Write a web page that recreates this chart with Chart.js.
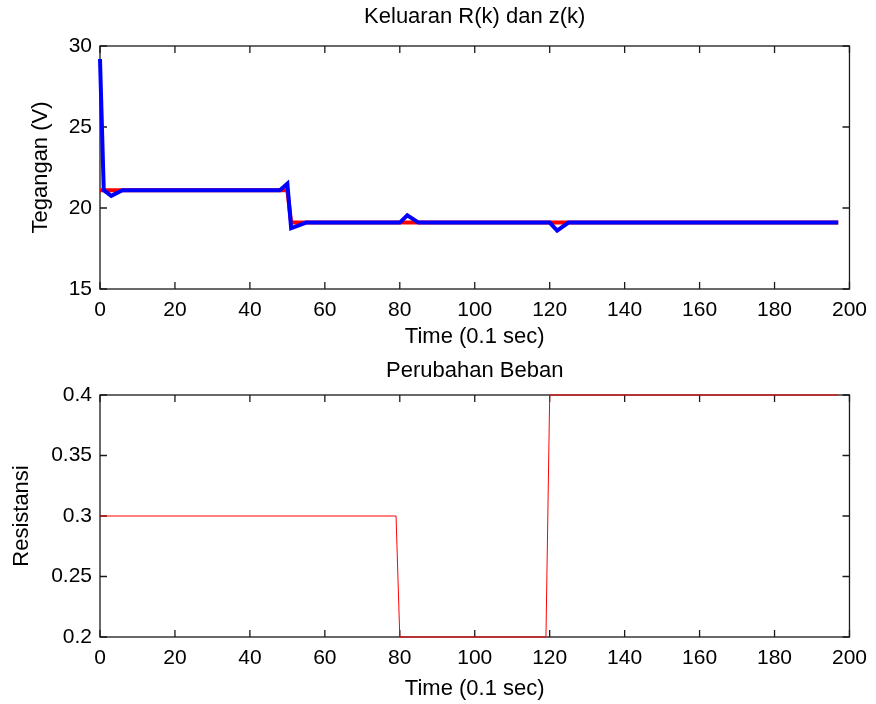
<!DOCTYPE html>
<html>
<head>
<meta charset="utf-8">
<script src="https://cdn.jsdelivr.net/npm/chart.js@4"></script>
<style>
  html, body { margin: 0; padding: 0; background: #fff; }
  #wadah { position: relative; width: 876px; height: 704px; background: #fff; }
  canvas { position: absolute; left: 0; }
</style>
</head>
<body>
<div id="wadah">
  <canvas id="grafikAtas" width="876" height="352" style="top:0"></canvas>
  <canvas id="grafikBawah" width="876" height="352" style="top:352px"></canvas>
</div>
<script>
// data
const waktuR = [0, 50, 51, 197];
const nilaiR = [21.1, 21.1, 19.1, 19.1];
const waktuZ = [0, 1, 3, 6, 48, 50, 51, 55, 80, 82, 85, 120, 122, 125, 197];
const nilaiZ = [29.2, 21.1, 20.75, 21.1, 21.1, 21.5, 18.75, 19.1, 19.1, 19.55, 19.1, 19.1, 18.6, 19.1, 19.1];
const waktuBeban = [0, 79, 80, 119, 120, 197];
const nilaiBeban = [0.3, 0.3, 0.2, 0.2, 0.4, 0.4];

const labelX = [0, 20, 40, 60, 80, 100, 120, 140, 160, 180, 200];
const labelTegangan = [15, 20, 25, 30];
const labelResistansi = [0.2, 0.25, 0.3, 0.35, 0.4];

const huruf = '"Liberation Sans", Arial, sans-serif';
Chart.defaults.color = '#000';
Chart.defaults.font.family = huruf;

function gabung(xs, ys) {
    return xs.map((x, i) => ({ x: x, y: ys[i] }));
}

// kotak sumbu + tick ke dalam ala MATLAB
const kotakSumbu = {
    id: 'kotakSumbu',
    beforeDatasetsDraw(chart) {
        const { ctx, chartArea: a, scales } = chart;
        const p = 7;
        ctx.save();
        ctx.strokeStyle = '#1a1a1a';
        ctx.lineWidth = 1.3;
        ctx.strokeRect(a.left, a.top, a.right - a.left, a.bottom - a.top);
        ctx.beginPath();
        scales.x.ticks.forEach(t => {
            const x = scales.x.getPixelForValue(t.value);
            ctx.moveTo(x, a.bottom); ctx.lineTo(x, a.bottom - p);
            ctx.moveTo(x, a.top); ctx.lineTo(x, a.top + p);
        });
        scales.y.ticks.forEach(t => {
            const y = scales.y.getPixelForValue(t.value);
            ctx.moveTo(a.left, y); ctx.lineTo(a.left + p, y);
            ctx.moveTo(a.right, y); ctx.lineTo(a.right - p, y);
        });
        ctx.stroke();
        ctx.restore();
    }
};

function buatGrafik(id, opsi) {
    return new Chart(document.getElementById(id), {
        type: 'line',
        data: { datasets: opsi.datasets },
        options: {
            responsive: false,
            animation: false,
            devicePixelRatio: 1,
            layout: { padding: { left: 0, right: 25, top: 0, bottom: 0 } },
            elements: { point: { radius: 0 }, line: { tension: 0 } },
            plugins: {
                legend: { display: false },
                tooltip: { enabled: false },
                title: {
                    display: true,
                    text: opsi.judul,
                    fullSize: false,
                    color: '#000',
                    font: { family: huruf, size: 22, weight: 'normal' },
                    padding: opsi.padJudul
                }
            },
            scales: {
                x: {
                    type: 'linear',
                    min: 0,
                    max: 200,
                    afterBuildTicks: s => { s.ticks = labelX.map(v => ({ value: v })); },
                    afterFit: s => { s.height = opsi.tinggiX; },
                    grid: { display: false, drawTicks: false },
                    border: { display: false },
                    ticks: { padding: 9, maxRotation: 0, autoSkip: false, font: { size: 21 }, callback: v => String(v) },
                    title: { display: true, text: 'Time (0.1 sec)', font: { size: 22 }, padding: { top: 0, bottom: 2 } }
                },
                y: {
                    type: 'linear',
                    min: opsi.yMin,
                    max: opsi.yMax,
                    afterBuildTicks: s => { s.ticks = opsi.labelY.map(v => ({ value: v })); },
                    afterFit: s => { s.width = 100; },
                    grid: { display: false, drawTicks: false },
                    border: { display: false },
                    ticks: { padding: 8, autoSkip: false, font: { size: 21 }, callback: v => String(v) },
                    title: { display: true, text: opsi.judulY, font: { size: 22 }, padding: { top: opsi.padJudulY, bottom: 0 } }
                }
            }
        },
        plugins: [kotakSumbu]
    });
}

buatGrafik('grafikAtas', {
    judul: 'Keluaran R(k) dan z(k)',
    padJudul: { top: 4, bottom: 15.6 },
    tinggiX: 63,
    yMin: 15,
    yMax: 30,
    labelY: labelTegangan,
    judulY: 'Tegangan (V)',
    padJudulY: 28,
    datasets: [
        { label: 'z(k)', data: gabung(waktuZ, nilaiZ), borderColor: '#0000ff', borderWidth: 4, clip: 4 },
        { label: 'R(k)', data: gabung(waktuR, nilaiR), borderColor: '#ff0000', borderWidth: 4, clip: 4 }
    ]
});

buatGrafik('grafikBawah', {
    judul: 'Perubahan Beban',
    padJudul: { top: 6, bottom: 10.6 },
    tinggiX: 67,
    yMin: 0.2,
    yMax: 0.4,
    labelY: labelResistansi,
    judulY: 'Resistansi',
    padJudulY: 9,
    datasets: [
        { label: 'Beban', data: gabung(waktuBeban, nilaiBeban), borderColor: '#ff0000', borderWidth: 1, clip: 4 }
    ]
});
</script>
</body>
</html>
